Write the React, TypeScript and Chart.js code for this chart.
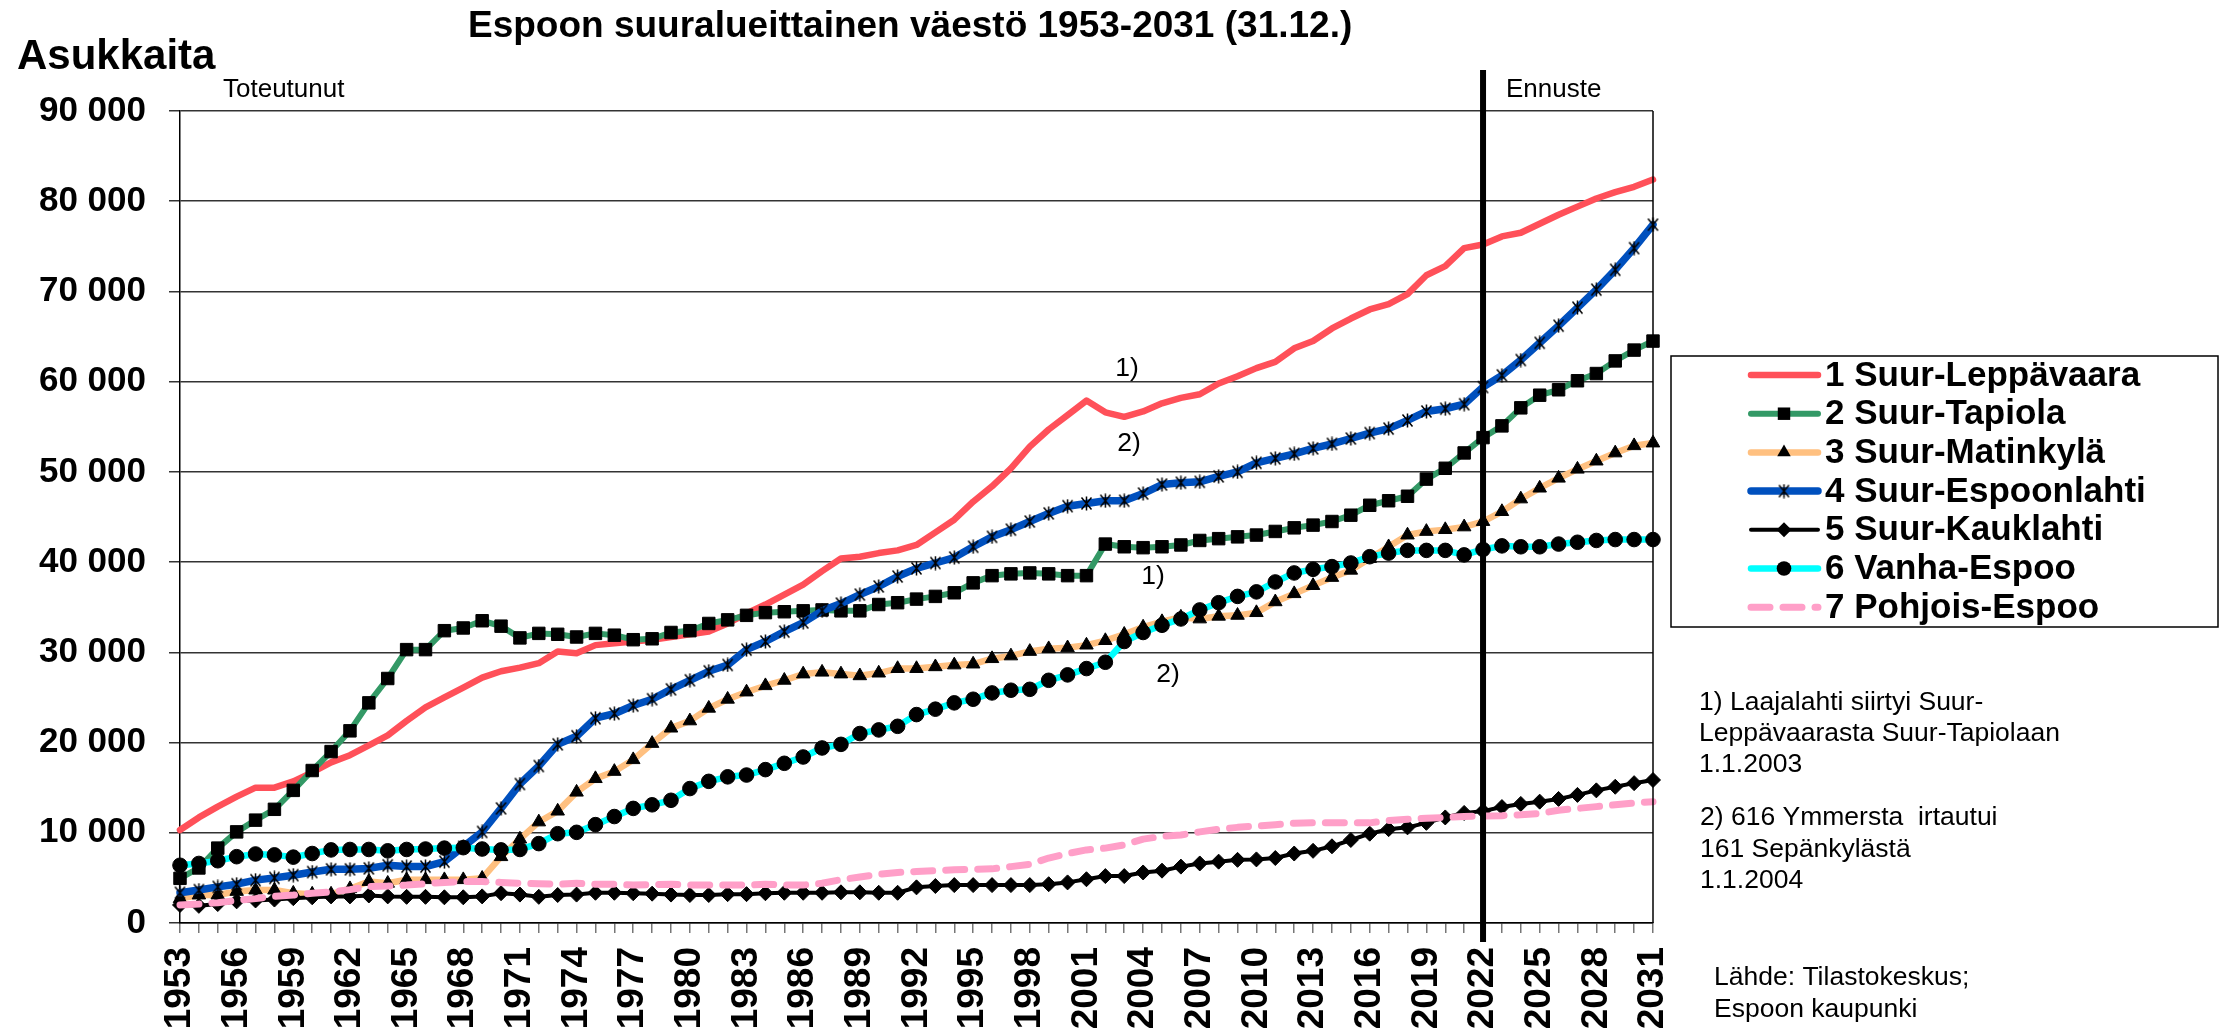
import React, { useEffect, useRef } from 'react';
import { Chart, registerables } from 'chart.js';

Chart.register(...registerables);

const YEARS = [
  '1953', '1954', '1955', '1956', '1957', '1958', '1959', '1960', '1961', '1962',
  '1963', '1964', '1965', '1966', '1967', '1968', '1969', '1970', '1971', '1972',
  '1973', '1974', '1975', '1976', '1977', '1978', '1979', '1980', '1981', '1982',
  '1983', '1984', '1985', '1986', '1987', '1988', '1989', '1990', '1991', '1992',
  '1993', '1994', '1995', '1996', '1997', '1998', '1999', '2000', '2001', '2002',
  '2003', '2004', '2005', '2006', '2007', '2008', '2009', '2010', '2011', '2012',
  '2013', '2014', '2015', '2016', '2017', '2018', '2019', '2020', '2021', '2022',
  '2023', '2024', '2025', '2026', '2027', '2028', '2029', '2030', '2031',
];

const X_TICK_LABELS = [
  '1953', '1956', '1959', '1962', '1965', '1968', '1971', '1974', '1977', '1980',
  '1983', '1986', '1989', '1992', '1995', '1998', '2001', '2004', '2007', '2010',
  '2013', '2016', '2019', '2022', '2025', '2028', '2031',
];

const SUUR_LEPPAVAARA = [
  10300, 11700, 12900, 14000, 15000, 15000, 15700, 16700, 17800, 18600,
  19700, 20800, 22400, 23900, 25000, 26100, 27200, 27900, 28300, 28800,
  30100, 29900, 30800, 31000, 31200, 31400, 31700, 32000, 32300, 33200,
  34300, 35300, 36400, 37500, 39000, 40400, 40600, 41000, 41300, 41900,
  43300, 44700, 46700, 48400, 50400, 52800, 54700, 56300, 57900, 56600,
  56100, 56700, 57600, 58200, 58600, 59800, 60600, 61500, 62200, 63700,
  64500, 65900, 67000, 68000, 68600, 69700, 71800, 72800, 74800, 75200,
  76100, 76500, 77500, 78500, 79400, 80300, 81000, 81600, 82400,
];

const SUUR_TAPIOLA = [
  4950, 6100, 8300, 10100, 11400, 12600, 14700, 16900, 19000, 21300,
  24400, 27100, 30300, 30300, 32400, 32700, 33500, 32900, 31600, 32100,
  32000, 31700, 32100, 31900, 31400, 31500, 32200, 32400, 33200, 33600,
  34100, 34400, 34500, 34600, 34700, 34600, 34600, 35300, 35500, 35900,
  36200, 36600, 37700, 38500, 38700, 38800, 38700, 38500, 38500, 42000,
  41700, 41600, 41700, 41900, 42400, 42600, 42800, 43000, 43400, 43800,
  44100, 44500, 45200, 46300, 46800, 47300, 49200, 50400, 52100, 53800,
  55100, 57100, 58500, 59100, 60100, 60900, 62300, 63500, 64500,
];

const SUUR_MATINKYLA = [
  2700, 3100, 3100, 3500, 3650, 3650, 3300, 3200, 3200, 3800,
  4600, 4400, 4800, 4800, 4800, 4800, 4950, 7350, 9300, 11200,
  12400, 14500, 16000, 16800, 18100, 19900, 21600, 22400, 23800, 24800,
  25600, 26300, 26900, 27600, 27800, 27600, 27400, 27700, 28200, 28200,
  28400, 28600, 28700, 29300, 29600, 30100, 30400, 30500, 30800, 31300,
  32000, 32800, 33400, 33900, 33700, 34000, 34100, 34400, 35600, 36500,
  37400, 38300, 39100, 40400, 41700, 43000, 43400, 43600, 43900, 44500,
  45600, 47000, 48200, 49300, 50300, 51200, 52100, 52900, 53200,
];

const SUUR_ESPOONLAHTI = [
  3350, 3650, 4000, 4300, 4750, 5000, 5300, 5650, 5950, 5950,
  6050, 6400, 6250, 6250, 6800, 8450, 10100, 12700, 15400, 17400,
  19800, 20700, 22700, 23200, 24100, 24800, 25900, 26900, 27900, 28600,
  30300, 31200, 32300, 33300, 34600, 35400, 36400, 37300, 38400, 39300,
  39900, 40500, 41700, 42800, 43600, 44500, 45400, 46200, 46500, 46800,
  46800, 47600, 48600, 48800, 48900, 49500, 50000, 51000, 51500, 52000,
  52600, 53100, 53700, 54300, 54800, 55700, 56700, 57000, 57500, 59400,
  60700, 62400, 64300, 66200, 68200, 70200, 72400, 74800, 77400,
];

const SUUR_KAUKLAHTI = [
  2000, 1900, 2100, 2400, 2500, 2600, 2750, 2850, 2950, 2950,
  3050, 2950, 2900, 2900, 2850, 2850, 2950, 3300, 3150, 2900,
  3100, 3150, 3350, 3350, 3300, 3250, 3150, 3100, 3100, 3200,
  3200, 3300, 3350, 3350, 3350, 3400, 3400, 3350, 3350, 3950,
  4100, 4200, 4200, 4200, 4200, 4200, 4300, 4500, 4850, 5200,
  5200, 5600, 5800, 6250, 6600, 6800, 7000, 7050, 7200, 7700,
  8000, 8500, 9200, 9900, 10400, 10600, 11100, 11700, 12200, 12400,
  12850, 13200, 13450, 13750, 14200, 14700, 15100, 15500, 15850,
];

const VANHA_ESPOO = [
  6400, 6600, 6900, 7350, 7650, 7550, 7300, 7700, 8100, 8150,
  8150, 8000, 8150, 8200, 8300, 8350, 8200, 8100, 8150, 8800,
  9900, 10050, 10900, 11800, 12700, 13100, 13600, 14900, 15700, 16200,
  16400, 17000, 17700, 18400, 19400, 19800, 21000, 21400, 21800, 23100,
  23700, 24400, 24800, 25500, 25800, 25900, 26900, 27500, 28200, 28900,
  31200, 32200, 33000, 33700, 34700, 35500, 36200, 36700, 37800, 38800,
  39200, 39500, 39900, 40600, 41000, 41300, 41300, 41300, 40800, 41400,
  41800, 41700, 41700, 42000, 42200, 42400, 42500, 42500, 42500,
];

const POHJOIS_ESPOO = [
  2000, 2100, 2250, 2500, 2700, 2950, 3100, 3300, 3450, 3700,
  4050, 4100, 4200, 4350, 4500, 4600, 4600, 4500, 4400, 4350,
  4300, 4400, 4300, 4300, 4200, 4250, 4300, 4200, 4200, 4200,
  4200, 4300, 4200, 4200, 4400, 4800, 5100, 5400, 5600, 5700,
  5800, 5900, 5950, 6000, 6250, 6500, 7200, 7700, 8100, 8300,
  8650, 9300, 9600, 9750, 10100, 10400, 10600, 10750, 10900, 11050,
  11100, 11100, 11100, 11100, 11350, 11500, 11600, 11700, 11800, 11850,
  11900, 12000, 12150, 12500, 12700, 12900, 13100, 13300, 13450,
];

const SERIES_NAMES = [
  '1 Suur-Leppävaara',
  '2 Suur-Tapiola',
  '3 Suur-Matinkylä',
  '4 Suur-Espoonlahti',
  '5 Suur-Kauklahti',
  '6 Vanha-Espoo',
  '7 Pohjois-Espoo',
];

const TITLE = 'Espoon suuralueittainen väestö 1953-2031 (31.12.)';
const Y_TITLE = 'Asukkaita';
const LABEL_ACTUAL = 'Toteutunut';
const LABEL_FORECAST = 'Ennuste';
const FORECAST_YEAR = '2022';
const NOTE_1 = ['1) Laajalahti siirtyi Suur-', 'Leppävaarasta Suur-Tapiolaan', '1.1.2003'];
const NOTE_2 = ['2) 616 Ymmersta  irtautui', '161 Sepänkylästä', '1.1.2004'];
const SOURCE = ['Lähde: Tilastokeskus;', 'Espoon kaupunki'];

const FONT = '"Liberation Sans", Arial, Helvetica, sans-serif';

type Marker = 'none' | 'rect' | 'triangle' | 'star' | 'rectRot' | 'circle';

const STYLES: { color: string; width: number; marker: Marker; radius: number; dash?: number[] }[] = [
  { color: '#FF5059', width: 6.5, marker: 'none', radius: 0 },
  { color: '#339966', width: 6, marker: 'rect', radius: 8.8 },
  { color: '#FFC080', width: 6.5, marker: 'triangle', radius: 7.8 },
  { color: '#0050BE', width: 7.5, marker: 'star', radius: 7 },
  { color: '#000000', width: 4, marker: 'rectRot', radius: 7.5 },
  { color: '#00FFFF', width: 6.5, marker: 'circle', radius: 7.3 },
  { color: '#FF9FC8', width: 7, marker: 'none', radius: 0, dash: [19, 13] },
];

function makeStar(): HTMLCanvasElement {
  const c = document.createElement('canvas');
  c.width = 13;
  c.height = 15;
  const g = c.getContext('2d')!;
  g.strokeStyle = '#000';
  g.lineWidth = 1.5;
  g.beginPath();
  g.moveTo(1.5, 1.5);
  g.lineTo(11.5, 13.5);
  g.moveTo(11.5, 1.5);
  g.lineTo(1.5, 13.5);
  g.moveTo(6.5, 0.5);
  g.lineTo(6.5, 14.5);
  g.stroke();
  return c;
}

function drawMarker(ctx: CanvasRenderingContext2D, m: Marker, x: number, y: number, r: number, star: HTMLCanvasElement) {
  ctx.save();
  ctx.fillStyle = '#000';
  ctx.strokeStyle = '#000';
  ctx.lineWidth = 1;
  ctx.setLineDash([]);
  ctx.beginPath();
  if (m === 'rect') {
    const s = r * Math.SQRT1_2;
    ctx.rect(x - s, y - s, 2 * s, 2 * s);
    ctx.fill();
  } else if (m === 'triangle') {
    ctx.moveTo(x, y - r);
    ctx.lineTo(x + r * 0.866, y + r * 0.5);
    ctx.lineTo(x - r * 0.866, y + r * 0.5);
    ctx.closePath();
    ctx.fill();
  } else if (m === 'rectRot') {
    ctx.moveTo(x, y - r);
    ctx.lineTo(x + r, y);
    ctx.lineTo(x, y + r);
    ctx.lineTo(x - r, y);
    ctx.closePath();
    ctx.fill();
  } else if (m === 'circle') {
    ctx.arc(x, y, r, 0, Math.PI * 2);
    ctx.fill();
  } else if (m === 'star') {
    ctx.drawImage(star, x - star.width / 2, y - star.height / 2);
  }
  ctx.restore();
}

function fmt(v: number): string {
  return String(v).replace(/\B(?=(\d{3})+(?!\d))/g, ' ');
}

export default function App() {
  const ref = useRef<HTMLCanvasElement>(null);

  useEffect(() => {
    const canvas = ref.current;
    if (!canvas) return;
    const star = makeStar();
    const values = [
      SUUR_LEPPAVAARA,
      SUUR_TAPIOLA,
      SUUR_MATINKYLA,
      SUUR_ESPOONLAHTI,
      SUUR_KAUKLAHTI,
      VANHA_ESPOO,
      POHJOIS_ESPOO,
    ];

    const text = (
      ctx: CanvasRenderingContext2D,
      s: string,
      x: number,
      y: number,
      size: number,
      bold: boolean,
      align: CanvasTextAlign = 'left',
    ) => {
      ctx.font = `${bold ? 'bold ' : ''}${size}px ${FONT}`;
      ctx.textAlign = align;
      ctx.textBaseline = 'alphabetic';
      ctx.fillStyle = '#000';
      ctx.fillText(s, x, y);
    };

    const decor = {
      id: 'decor',
      afterDatasetsDraw(chart: any) {
        const { ctx, chartArea, scales } = chart;
        ctx.save();
        // right frame
        ctx.strokeStyle = '#000';
        ctx.lineWidth = 1.5;
        ctx.beginPath();
        ctx.moveTo(chartArea.right, chartArea.top);
        ctx.lineTo(chartArea.right, chartArea.bottom);
        ctx.stroke();
        // forecast divider
        const fx = scales.x.getPixelForValue(YEARS.indexOf(FORECAST_YEAR));
        ctx.lineWidth = 6;
        ctx.beginPath();
        ctx.moveTo(fx, 70);
        ctx.lineTo(fx, chartArea.bottom + 19);
        ctx.stroke();

        // texts
        text(ctx, TITLE, 468, 37, 37, true);
        text(ctx, Y_TITLE, 17, 69, 42, true);
        text(ctx, LABEL_ACTUAL, 223, 97, 26, false);
        text(ctx, LABEL_FORECAST, 1506, 97, 26, false);
        text(ctx, '1)', 1127, 376, 26.5, false, 'center');
        text(ctx, '2)', 1129, 451, 26.5, false, 'center');
        text(ctx, '1)', 1153, 584, 26.5, false, 'center');
        text(ctx, '2)', 1168, 682, 26.5, false, 'center');
        NOTE_1.forEach((s, i) => text(ctx, s, 1699, 710 + i * 31, 26.5, false));
        NOTE_2.forEach((s, i) => text(ctx, s, 1700, 825 + i * 31.5, 26.5, false));
        SOURCE.forEach((s, i) => text(ctx, s, 1714, 985 + i * 32, 26.5, false));

        // legend
        ctx.strokeStyle = '#000';
        ctx.lineWidth = 1.5;
        ctx.setLineDash([]);
        ctx.strokeRect(1671, 356, 547, 271);
        SERIES_NAMES.forEach((name, i) => {
          const st = STYLES[i];
          const yy = 375 + i * 38.7;
          ctx.save();
          ctx.strokeStyle = st.color;
          ctx.lineWidth = st.width;
          ctx.lineCap = 'round';
          ctx.setLineDash(st.dash ? st.dash : []);
          ctx.beginPath();
          ctx.moveTo(1751, yy);
          ctx.lineTo(1818, yy);
          ctx.stroke();
          ctx.restore();
          drawMarker(ctx, st.marker, 1784, yy, st.radius, star);
          ctx.font = `bold 35px ${FONT}`;
          ctx.textAlign = 'left';
          ctx.textBaseline = 'middle';
          ctx.fillStyle = '#000';
          ctx.fillText(name, 1825, yy + 1);
        });
        ctx.restore();
      },
    };

    const datasets = SERIES_NAMES.map((name, i) => {
      const st = STYLES[i];
      const ps: any = st.marker === 'star' ? star : st.marker === 'none' ? 'circle' : st.marker;
      return {
        label: name,
        data: values[i],
        borderColor: st.color,
        backgroundColor: st.color,
        borderWidth: st.width,
        borderDash: st.dash || [],
        borderCapStyle: 'round' as CanvasLineCap,
        borderJoinStyle: 'round' as CanvasLineJoin,
        tension: 0,
        pointStyle: ps,
        pointRadius: st.radius,
        pointBackgroundColor: '#000',
        pointBorderColor: '#000',
        pointBorderWidth: 1,
        pointHoverRadius: st.radius,
        clip: false as any,
        order: SERIES_NAMES.length - i,
      };
    });

    const chart = new Chart(canvas, {
      type: 'line',
      data: { labels: YEARS, datasets },
      options: {
        animation: false,
        responsive: false,
        devicePixelRatio: 1,
        events: [],
        layout: { padding: { left: 0, right: 573, top: 111, bottom: 0 } },
        plugins: {
          legend: { display: false },
          title: { display: false },
          tooltip: { enabled: false },
        },
        scales: {
          x: {
            type: 'category',
            offset: false,
            afterFit: (s: any) => {
              s.height = 108;
            },
            grid: {
              drawOnChartArea: false,
              drawTicks: true,
              tickLength: 10,
              color: '#777',
              lineWidth: 1.5,
              offset: false,
            },
            border: { display: true, color: '#000', width: 1.5 },
            ticks: {
              autoSkip: false,
              minRotation: 90,
              maxRotation: 90,
              padding: 14,
              color: '#000',
              font: { family: FONT, size: 37, weight: 'bold' },
              callback: (_v: any, idx: number) => (X_TICK_LABELS.includes(YEARS[idx]) ? YEARS[idx] : ''),
            },
          },
          y: {
            min: 0,
            max: 90000,
            afterFit: (s: any) => {
              s.width = 180;
            },
            grid: {
              color: '#333',
              lineWidth: 1.5,
              tickLength: 11,
              drawTicks: true,
            },
            border: { display: true, color: '#000', width: 1.5 },
            ticks: {
              stepSize: 10000,
              padding: 23,
              color: '#000',
              font: { family: FONT, size: 35, weight: 'bold' },
              callback: (v: any) => fmt(Number(v)),
            },
          },
        },
      },
      plugins: [decor],
    });

    return () => chart.destroy();
  }, []);

  return (
    <div style={{ position: 'fixed', left: 0, top: 0, width: 2226, height: 1031, background: '#fff' }}>
      <canvas ref={ref} width={2226} height={1031} style={{ display: 'block', width: 2226, height: 1031 }} />
    </div>
  );
}
